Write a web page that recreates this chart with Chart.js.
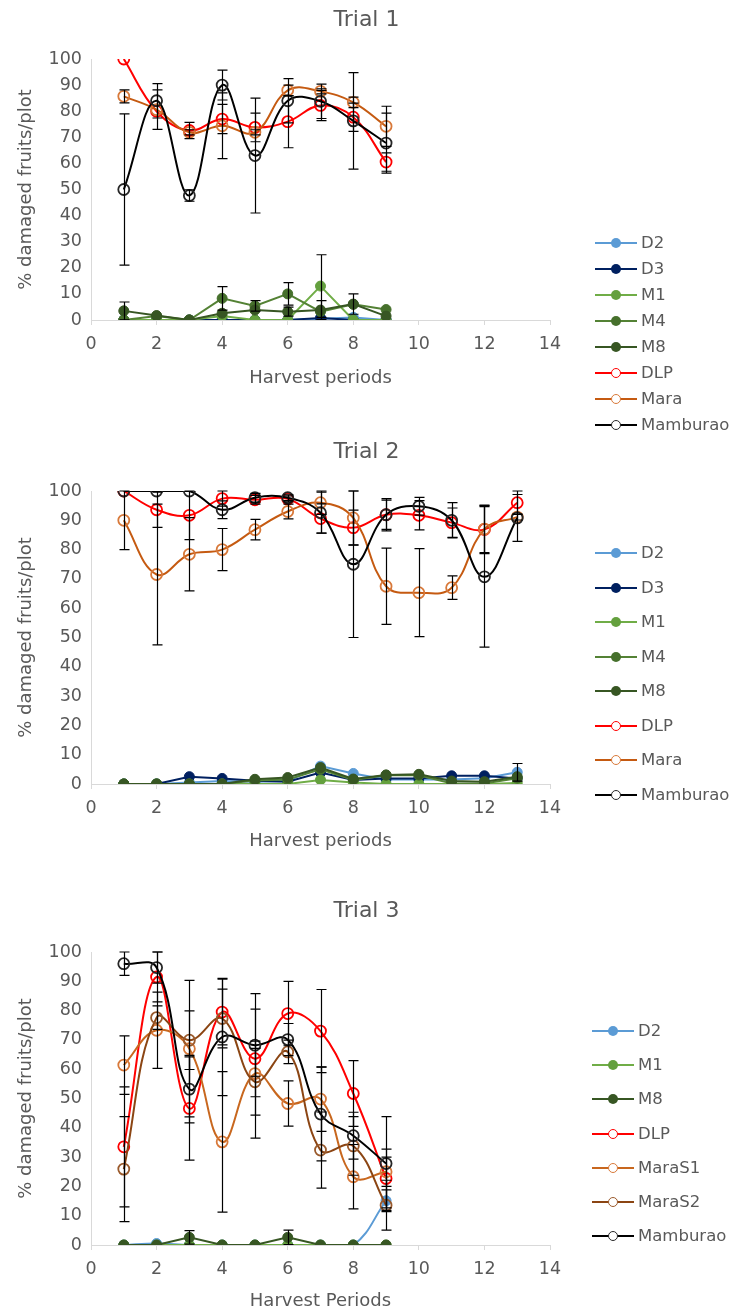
<!DOCTYPE html>
<html>
<head>
<meta charset="utf-8">
<script src="https://cdn.jsdelivr.net/npm/chart.js@4.4.1/dist/chart.umd.min.js"></script>
<style>
  body { margin: 0; background: #fff; width: 733px; height: 1312px; position: relative; overflow: hidden; font-family: "DejaVu Sans", sans-serif; }
  .panel { position: absolute; left: 0; width: 733px; }
  .item { position: absolute; height: 20px; line-height: 20px; font-size: 16.5px; color: #595959; white-space: nowrap; }
  .item .ln { position: absolute; left: 0; top: 9px; width: 42px; height: 2px; }
  .item .mk { position: absolute; left: 16px; top: 5px; width: 10px; height: 10px; border-radius: 50%; box-sizing: border-box; }
  .item .tx { position: absolute; left: 46px; top: 0; }
</style>
</head>
<body>
<div class="panel" style="top:0;height:400px"><canvas id="trial1"></canvas></div>
<div class="panel" style="top:430px;height:430px"><canvas id="trial2"></canvas></div>
<div class="panel" style="top:870px;height:442px"><canvas id="trial3"></canvas></div>
<script>
// ---- data ----
const xMax = 14, xStep = 2;
const yMax = 100, yStep = 10;

// Trial 1
const periods1 = [1, 2, 3, 4, 5, 6, 7, 8, 9];
const t1D2 = [0, 0, 0, 0, 0, 0, 0.5, 1, 0];
const t1D3 = [0, 0, 0, 0, 0, 0, 0.8, 0, 0];
const t1M1 = [0, 0, 0, 1.5, 0, 0, 13, 0, 0];
const t1M4 = [0, 1.5, 0, 8.3, 5.4, 10, 3.2, 6, 4];
const t1M8 = [3.5, 1.7, 0, 2.6, 3.8, 3.2, 3.8, 6.1, 1.5];
const t1DLP = [100, 80, 72.6, 77, 73.8, 76, 82.2, 77.7, 60.5];
const t1Mara = [85.7, 80.6, 71.9, 74.4, 71.9, 88, 87.6, 83.4, 74.2];
const t1Mamburao = [50, 84, 47.7, 90, 63, 84, 83.8, 76.3, 67.8];
// error bars (+/-)
const t1M1Err = [0, 0, 0, 0, 0, 0, 12, 0, 0];
const t1M4Err = [0, 0, 0, 4.5, 2, 4.3, 0, 0, 0];
const t1M8Err = [3.4, 0, 0, 0, 0, 1.7, 3.6, 3.9, 0];
const t1DLPErr = [0, 0, 3.1, 5.6, 5.5, 10, 5.8, 5.4, 3.5];
const t1MaraErr = [2.5, 7.6, 1, 12.6, 1, 2, 1, 2, 7.7];
const t1MamburaoErr = [29, 6.6, 2.2, 5.7, 22, 8.5, 6.6, 18.5, 11.5];

// Trial 2
const periods2 = [1, 2, 3, 4, 5, 6, 7, 8, 9, 10, 11, 12, 13];
const t2D2 = [0, 0, 0.5, 1, 0.8, 1, 6.1, 3.6, 1.5, 1.5, 1.5, 2, 4];
const t2D3 = [0, 0, 2.5, 1.9, 1.1, 0.8, 3.9, 1.4, 1.9, 1.9, 2.8, 2.8, 1.9];
const t2M1 = [0, 0, 0, 0, 0, 0, 1.4, 0.5, 0, 0, 0, 0, 0.3];
const t2M4 = [0, 0, 0, 0, 1.2, 1.5, 5, 1.4, 3, 3, 0.2, 0.2, 2];
const t2M8 = [0, 0, 0, 0, 1.6, 2.2, 5.6, 1.7, 3.1, 3.3, 1, 0.8, 2.5];
const t2DLP = [100, 93.6, 91.7, 97.4, 97, 97.3, 90.6, 87.5, 91.9, 91.7, 89.2, 86.9, 96];
const t2Mara = [90, 71.5, 78.4, 80, 86.8, 93, 96, 90.8, 67.5, 65.3, 67, 87, 91.1];
const t2Mamburao = [100, 100, 100, 93.6, 97.7, 97.7, 92.6, 75, 91.9, 94.8, 90, 70.7, 90.8];
const t2D2Err = [0, 0, 0, 0, 0, 0, 0, 0, 0, 0, 0, 0, 3];
const t2DLPErr = [0, 6, 8.3, 2.6, 1.5, 1, 5, 6, 5, 5, 5, 8.3, 4];
const t2MaraErr = [10, 24, 12.5, 7.2, 3.5, 2.5, 4, 9.2, 13, 15, 4, 8, 1];
const t2MamburaoErr = [0, 0, 0, 3, 1.5, 1, 7, 25, 5.5, 3, 6, 24, 8];

// Trial 3
const periods3 = [1, 2, 3, 4, 5, 6, 7, 8, 9];
const t3D2 = [0, 0.5, 0, 0, 0, 0, 0, 0, 15.1];
const t3M1 = [0, 0, 0, 0, 0, 0, 0, 0, 0];
const t3M8 = [0, 0, 2.6, 0, 0, 2.6, 0, 0, 0];
const t3DLP = [33.5, 91.5, 46.6, 79.5, 63.6, 79, 73, 51.7, 22.7];
const t3MaraS1 = [61.4, 73.3, 67, 35.2, 58.5, 48.3, 49.8, 23.3, 25];
const t3MaraS2 = [25.9, 77.6, 69.9, 77.3, 55.7, 65.9, 32.4, 33.8, 13.6];
const t3Mamburao = [96, 94.7, 53.2, 71, 68.2, 70.1, 44.7, 37.3, 27.8];
const t3D2Err = [0, 0, 0, 0, 0, 0, 0, 0, 3.7];
const t3M8Err = [0, 0, 2.3, 0, 0, 2.5, 0, 0, 0];
const t3DLPErr = [20.5, 8.5, 17.6, 11.2, 6, 11, 14.2, 11.2, 10];
const t3MaraS1Err = [10, 13, 23.3, 24, 22, 7.7, 11, 11, 5];
const t3MaraS2Err = [17.9, 4, 10, 10, 11.4, 4, 13, 10, 8.5];
const t3MamburaoErr = [4, 5.3, 11.5, 20, 17.6, 5.5, 16, 8, 16];

// ---- styling ----
const colors = {
  D2: ['#5b9bd5', '#5b9bd5'],
  D3: ['#002060', '#002060'],
  M1: ['#70ad47', '#64a03e'],
  M4: ['#548235', '#46702c'],
  M8: ['#375623', '#375623'],
  DLP: ['#ff0000', '#ff0000'],
  Mara: ['#c55a11', '#d8793a'],
  MaraS1: ['#c8671e', '#d8793a'],
  MaraS2: ['#8b4513', '#9a5a2c'],
  Mamburao: ['#000000', '#262626']
};
const textColor = '#595959';
const axisColor = '#d9d9d9';
const fontFamily = '"DejaVu Sans", sans-serif';

function series(label, key, periods, values, errors, open, smooth) {
  const [line, mark] = colors[key];
  return {
    label,
    data: periods.map((p, i) => ({ x: p, y: values[i] })),
    errors,
    open,
    borderColor: line,
    backgroundColor: line,
    pointBackgroundColor: open ? 'rgba(255,255,255,0)' : mark,
    pointBorderColor: mark,
    pointRadius: open ? 5.5 : 5,
    pointBorderWidth: open ? 1.8 : 1,
    borderWidth: 2,
    tension: smooth ? 0.4 : 0,
    fill: false
  };
}

const errorBars = {
  id: 'errorBars',
  afterDatasetsDraw(chart) {
    const { ctx, chartArea: a, scales: { x, y } } = chart;
    ctx.save();
    ctx.beginPath();
    ctx.rect(a.left - 10, a.top - 3, a.right - a.left + 20, a.bottom - a.top + 3);
    ctx.clip();
    ctx.strokeStyle = '#000';
    ctx.lineWidth = 1.2;
    chart.data.datasets.forEach(d => {
      if (!d.errors) return;
      d.data.forEach((pt, i) => {
        const e = d.errors[i];
        if (!e) return;
        const px = Math.round(x.getPixelForValue(pt.x)) + 0.5;
        const hi = y.getPixelForValue(pt.y + e);
        const lo = y.getPixelForValue(Math.max(0, pt.y - e));
        ctx.beginPath();
        ctx.moveTo(px, hi); ctx.lineTo(px, lo);
        ctx.moveTo(px - 5, hi); ctx.lineTo(px + 5, hi);
        if (pt.y - e >= 0) { ctx.moveTo(px - 5, lo); ctx.lineTo(px + 5, lo); }
        ctx.stroke();
      });
    });
    ctx.restore();
  }
};

function makeChart(id, title, xTitle, datasets, lay) {
  const n = datasets.length;
  datasets.forEach((d, i) => d.order = n - i);
  const padTop = lay.titleCenter - 13.2;
  return new Chart(document.getElementById(id), {
    type: 'line',
    data: { datasets },
    plugins: [errorBars],
    options: {
      responsive: true,
      maintainAspectRatio: false,
      animation: false,
      layout: { padding: { top: padTop, left: 0, right: 0, bottom: 0 } },
      plugins: {
        legend: { display: false },
        tooltip: { enabled: false },
        title: {
          display: true, text: title, color: textColor,
          font: { family: fontFamily, size: 22, weight: 'normal', lineHeight: 1.2 },
          padding: { top: 0, bottom: lay.top - padTop - 26.4 }
        }
      },
      scales: {
        x: {
          type: 'linear', min: 0, max: xMax,
          ticks: { stepSize: xStep, color: textColor, padding: 9, font: { family: fontFamily, size: 17.5 } },
          grid: { display: true, drawOnChartArea: false, drawTicks: true, tickLength: 5, color: axisColor },
          border: { display: true, color: axisColor, width: 1 },
          title: { display: true, text: xTitle, color: textColor, font: { family: fontFamily, size: 18, lineHeight: 1.2 }, padding: { top: 0, bottom: lay.xTitlePad } },
          afterFit: s => { s.height = lay.height - lay.bottom; }
        },
        y: {
          min: 0, max: yMax,
          ticks: { stepSize: yStep, color: textColor, padding: 9, font: { family: fontFamily, size: 17.5 } },
          grid: { display: true, drawOnChartArea: false, drawTicks: false, color: axisColor },
          border: { display: true, color: axisColor, width: 1 },
          title: { display: true, text: '% damaged fruits/plot', color: textColor, font: { family: fontFamily, size: 18, lineHeight: 1.2 }, padding: { top: 16, bottom: 0 } },
          afterFit: s => { s.width = 91; }
        },
        legendSpace: {
          position: 'right', display: true,
          ticks: { display: false }, grid: { display: false }, border: { display: false },
          afterFit: s => { s.width = 733 - 550; }
        }
      }
    }
  });
}

function htmlLegend(datasets, top, step, left) {
  datasets.forEach((d, i) => {
    const el = document.createElement('div');
    el.className = 'item';
    el.style.top = (top + i * step - 10) + 'px';
    el.style.left = left + 'px';
    const mk = d.open
      ? `background:#fff;border:1.5px solid ${d.pointBorderColor}`
      : `background:${d.pointBackgroundColor}`;
    el.innerHTML = `<span class="ln" style="background:${d.borderColor}"></span><span class="mk" style="${mk}"></span><span class="tx">${d.label}</span>`;
    document.body.appendChild(el);
  });
}

const ds1 = [
  series('D2', 'D2', periods1, t1D2, null, false, false),
  series('D3', 'D3', periods1, t1D3, null, false, false),
  series('M1', 'M1', periods1, t1M1, t1M1Err, false, false),
  series('M4', 'M4', periods1, t1M4, t1M4Err, false, false),
  series('M8', 'M8', periods1, t1M8, t1M8Err, false, false),
  series('DLP', 'DLP', periods1, t1DLP, t1DLPErr, true, true),
  series('Mara', 'Mara', periods1, t1Mara, t1MaraErr, true, true),
  series('Mamburao', 'Mamburao', periods1, t1Mamburao, t1MamburaoErr, true, true)
];
const ds2 = [
  series('D2', 'D2', periods2, t2D2, t2D2Err, false, false),
  series('D3', 'D3', periods2, t2D3, null, false, false),
  series('M1', 'M1', periods2, t2M1, null, false, false),
  series('M4', 'M4', periods2, t2M4, null, false, false),
  series('M8', 'M8', periods2, t2M8, null, false, false),
  series('DLP', 'DLP', periods2, t2DLP, t2DLPErr, true, true),
  series('Mara', 'Mara', periods2, t2Mara, t2MaraErr, true, true),
  series('Mamburao', 'Mamburao', periods2, t2Mamburao, t2MamburaoErr, true, true)
];
const ds3 = [
  series('D2', 'D2', periods3, t3D2, t3D2Err, false, true),
  series('M1', 'M1', periods3, t3M1, null, false, false),
  series('M8', 'M8', periods3, t3M8, t3M8Err, false, false),
  series('DLP', 'DLP', periods3, t3DLP, t3DLPErr, true, true),
  series('MaraS1', 'MaraS1', periods3, t3MaraS1, t3MaraS1Err, true, true),
  series('MaraS2', 'MaraS2', periods3, t3MaraS2, t3MaraS2Err, true, true),
  series('Mamburao', 'Mamburao', periods3, t3Mamburao, t3MamburaoErr, true, true)
];

makeChart('trial1', 'Trial 1', 'Harvest periods', ds1, { titleCenter: 20, top: 59, bottom: 320, height: 400, xTitlePad: 11 });
makeChart('trial2', 'Trial 2', 'Harvest periods', ds2, { titleCenter: 22, top: 61, bottom: 354, height: 430, xTitlePad: 8 });
makeChart('trial3', 'Trial 3', 'Harvest Periods', ds3, { titleCenter: 41, top: 82, bottom: 375, height: 442, xTitlePad: 0 });

htmlLegend(ds1, 243, 26, 595);
htmlLegend(ds2, 553, 34.5, 595);
htmlLegend(ds3, 1031, 34.2, 592);
</script>
</body>
</html>
